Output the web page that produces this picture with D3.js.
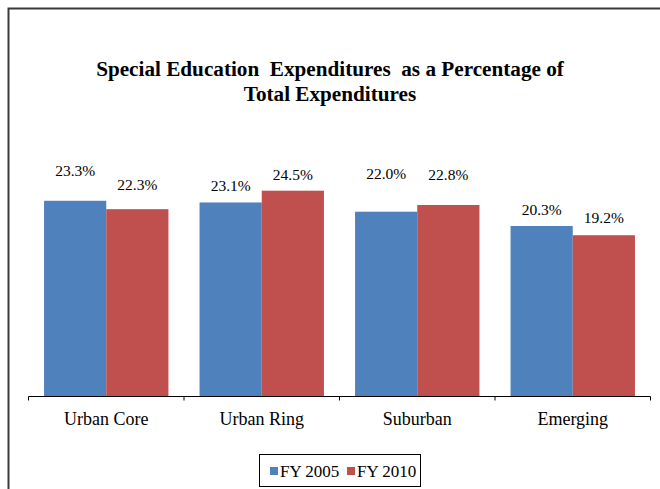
<!DOCTYPE html>
<html>
<head>
<meta charset="utf-8">
<script src="https://cdn.jsdelivr.net/npm/d3@7"></script>
<style>
  html, body { margin: 0; padding: 0; background: #fff; }
  svg { display: block; }
  svg text { font-family: "Liberation Serif", "Times New Roman", Times, serif !important; fill: #000; }
</style>
</head>
<body>
<svg id="chart" width="660" height="489" font-family="Liberation Serif, Times New Roman, serif"></svg>
<script>
// Spending data by district type
const categories = ["Urban Core", "Urban Ring", "Suburban", "Emerging"];
const seriesNames = ["FY 2005", "FY 2010"];
const fy2005 = [23.3, 23.1, 22.0, 20.3];
const fy2010 = [22.3, 24.5, 22.8, 19.2];
const colors = ["#4F81BD", "#C0504D"];
// extra lift (px) applied to individual value labels, per category [FY2005, FY2010]
const labelLift = [[14, 8.5], [0, 0], [21.5, 14], [0, 1]];

const svg = d3.select("#chart");
const W = 660, H = 489;
const serif = "Liberation Serif, Times New Roman, serif";

// outer chart frame (runs off the right and bottom edges)
svg.append("rect")
  .attr("x", 8.5).attr("y", 8.5)
  .attr("width", W + 20).attr("height", H + 20)
  .attr("fill", "none").attr("stroke", "#3a3a3a").attr("stroke-width", 2);

// title
const title = svg.append("text")
  .attr("font-family", serif)
  .attr("text-anchor", "middle")
  .attr("font-weight", "bold")
  .attr("font-size", 21.2)
  .attr("xml:space", "preserve");
title.append("tspan").attr("x", 330).attr("y", 76).text("Special Education  Expenditures  as a Percentage of");
title.append("tspan").attr("x", 330).attr("y", 101).text("Total Expenditures");

// plot area
const x0 = d3.scaleBand().domain(categories).range([28.5, 650.5]).paddingInner(0).paddingOuter(0);
const innerPad = 0.1;
const x1 = d3.scaleBand().domain(seriesNames)
  .range([x0.bandwidth() * innerPad, x0.bandwidth() * (1 - innerPad)]);
const y = d3.scaleLinear().domain([0, 30]).range([396.5, 144.5]);

const rows = categories.map((c, i) => ({
  category: c,
  values: [
    { series: seriesNames[0], value: fy2005[i], lift: labelLift[i][0], color: colors[0] },
    { series: seriesNames[1], value: fy2010[i], lift: labelLift[i][1], color: colors[1] }
  ]
}));

const groups = svg.append("g").selectAll("g")
  .data(rows).join("g")
  .attr("transform", d => `translate(${x0(d.category)},0)`);

groups.selectAll("rect")
  .data(d => d.values).join("rect")
  .attr("x", d => x1(d.series))
  .attr("y", d => y(d.value))
  .attr("width", x1.bandwidth())
  .attr("height", d => y(0) - y(d.value))
  .attr("fill", d => d.color);

groups.selectAll("text.val")
  .data(d => d.values).join("text")
  .attr("class", "val")
  .attr("font-family", serif)
  .attr("x", d => x1(d.series) + x1.bandwidth() / 2)
  .attr("y", d => y(d.value) - 11 - d.lift)
  .attr("text-anchor", "middle")
  .attr("font-size", 15.5)
  .text(d => d.value.toFixed(1) + "%");

// category axis
const axis = svg.append("g")
  .attr("transform", `translate(0,${y(0)})`)
  .call(d3.axisBottom(x0).tickSize(0).tickFormat(""));
axis.attr("font-family", serif);
axis.select(".domain").attr("stroke", "#000").attr("stroke-width", 1).attr("d", `M28.5,0H650.5`);
const edges = [28.5, ...categories.map(c => x0(c) + x0.bandwidth())];
axis.selectAll("line.edge").data(edges).join("line")
  .attr("class", "edge")
  .attr("x1", d => d).attr("x2", d => d)
  .attr("y1", 0).attr("y2", 4)
  .attr("stroke", "#000");
axis.selectAll("text.cat").data(categories).join("text")
  .attr("class", "cat")
  .attr("font-family", serif)
  .attr("x", d => x0(d) + x0.bandwidth() / 2)
  .attr("y", 28)
  .attr("text-anchor", "middle")
  .attr("font-size", 18)
  .text(d => d);

// legend
const legend = svg.append("g");
legend.append("rect")
  .attr("x", 259.5).attr("y", 454.5).attr("width", 161).attr("height", 32)
  .attr("fill", "#fff").attr("stroke", "#000").attr("stroke-width", 1);
const legendX = [270, 347];
const items = legend.selectAll("g").data(seriesNames).join("g")
  .attr("transform", (d, i) => `translate(${legendX[i]},0)`);
items.append("rect")
  .attr("x", 0).attr("y", 467).attr("width", 8).attr("height", 8)
  .attr("fill", (d, i) => colors[i]);
items.append("text")
  .attr("font-family", serif)
  .attr("x", 10).attr("y", 476.5)
  .attr("font-size", 17)
  .text(d => d);
</script>
</body>
</html>
